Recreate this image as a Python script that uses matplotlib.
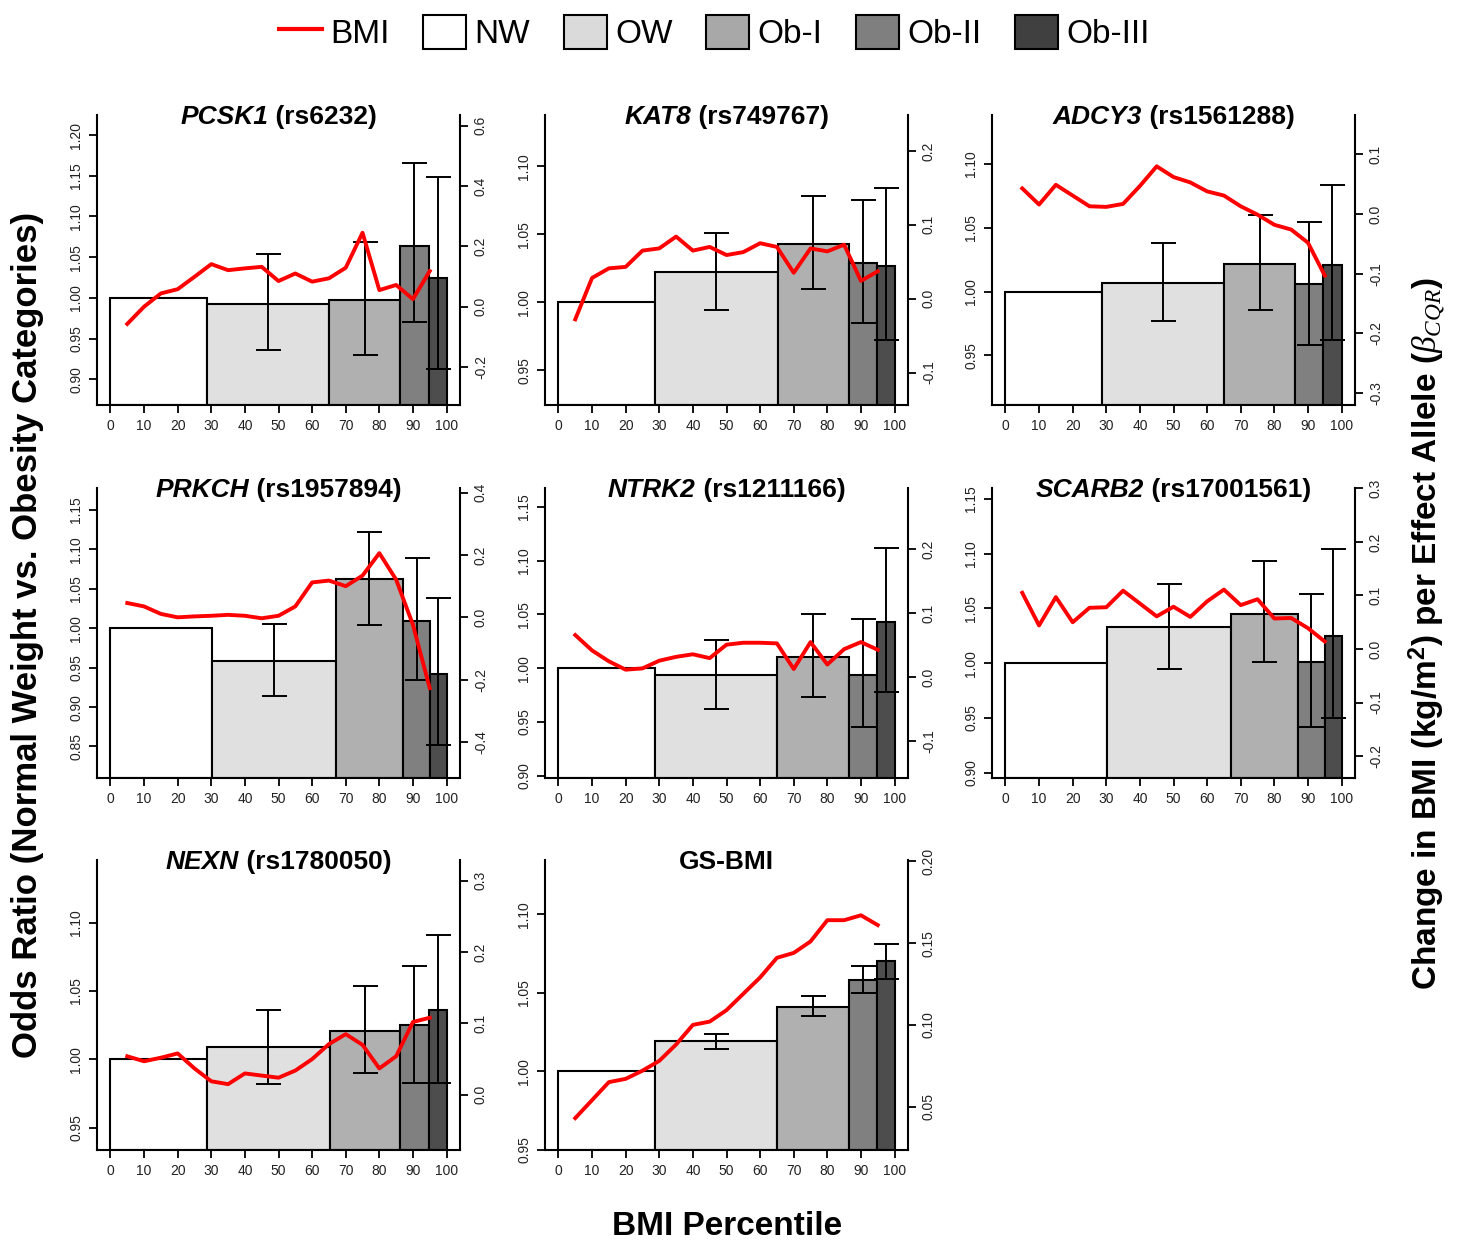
import matplotlib
matplotlib.use('Agg')
import matplotlib.pyplot as plt
from matplotlib.lines import Line2D
from matplotlib.patches import Patch
from matplotlib.ticker import MultipleLocator, FormatStrFormatter

plt.rcParams['font.family'] = ['Liberation Sans', 'DejaVu Sans']
plt.rcParams['mathtext.fontset'] = 'custom'
plt.rcParams['mathtext.rm'] = 'Liberation Sans:bold'
plt.rcParams['mathtext.bf'] = 'Liberation Sans:bold'
plt.rcParams['mathtext.it'] = 'Liberation Serif:italic'

# ---- data ----
categories = ['NW', 'OW', 'Ob-I', 'Ob-II', 'Ob-III']
genes = ['PCSK1', 'KAT8', 'ADCY3', 'PRKCH', 'NTRK2', 'SCARB2', 'NEXN', 'GS-BMI']
snps = ['rs6232', 'rs749767', 'rs1561288', 'rs1957894', 'rs1211166',
        'rs17001561', 'rs1780050', '']

# BMI percentiles used for the quantile regression line
pctl = [5, 10, 15, 20, 25, 30, 35, 40, 45, 50, 55, 60, 65, 70, 75, 80, 85, 90, 95]

# percentile cut points of the weight categories (NW | OW | Ob-I | Ob-II | Ob-III)
cuts = [
    [0, 28.6, 65.1, 86.1, 94.8, 100],
    [0, 28.6, 65.2, 86.3, 94.8, 100],
    [0, 28.7, 65.1, 86.2, 94.6, 100],
    [0, 30.3, 67.0, 87.1, 95.2, 100],
    [0, 28.6, 65.0, 86.3, 94.8, 100],
    [0, 30.1, 67.0, 87.1, 95.0, 100],
    [0, 28.6, 65.2, 86.1, 94.8, 100],
    [0, 28.6, 65.0, 86.3, 94.8, 100],
]

# odds ratios vs NW (NW = reference 1.00)
odds = [
    [1.00, 0.993, 0.997, 1.064, 1.025],
    [1.00, 1.022, 1.043, 1.029, 1.027],
    [1.00, 1.007, 1.022, 1.006, 1.021],
    [1.00, 0.959, 1.062, 1.009, 0.942],
    [1.00, 0.994, 1.010, 0.994, 1.043],
    [1.00, 1.033, 1.045, 1.001, 1.025],
    [1.00, 1.009, 1.021, 1.025, 1.036],
    [1.00, 1.019, 1.041, 1.058, 1.070],
]
odds_lo = [
    [0.936, 0.930, 0.971, 0.913],
    [0.994, 1.010, 0.985, 0.972],
    [0.977, 0.986, 0.958, 0.962],
    [0.914, 1.004, 0.934, 0.852],
    [0.962, 0.973, 0.945, 0.978],
    [0.995, 1.001, 0.942, 0.950],
    [0.982, 0.990, 0.983, 0.983],
    [1.014, 1.035, 1.050, 1.059],
]
odds_hi = [
    [1.054, 1.069, 1.166, 1.149],
    [1.051, 1.078, 1.075, 1.084],
    [1.038, 1.060, 1.055, 1.084],
    [1.006, 1.122, 1.089, 1.039],
    [1.026, 1.050, 1.046, 1.112],
    [1.072, 1.093, 1.063, 1.104],
    [1.036, 1.054, 1.068, 1.091],
    [1.024, 1.048, 1.067, 1.081],
]

# change in BMI per effect allele at each percentile
beta = [
    [-0.057, 0.000, 0.044, 0.058, 0.099, 0.141, 0.121, 0.127, 0.132, 0.085,
     0.110, 0.083, 0.094, 0.129, 0.245, 0.055, 0.072, 0.025, 0.118],
    [-0.028, 0.028, 0.041, 0.043, 0.065, 0.068, 0.084, 0.065, 0.070, 0.059,
     0.063, 0.075, 0.070, 0.035, 0.068, 0.064, 0.073, 0.024, 0.037],
    [0.043, 0.016, 0.049, 0.031, 0.013, 0.012, 0.017, 0.047, 0.080, 0.062,
     0.053, 0.038, 0.031, 0.013, -0.001, -0.018, -0.026, -0.048, -0.103],
    [0.046, 0.035, 0.011, 0.000, 0.003, 0.005, 0.008, 0.005, -0.003, 0.005,
     0.035, 0.112, 0.118, 0.100, 0.134, 0.206, 0.121, -0.024, -0.227],
    [0.066, 0.042, 0.025, 0.012, 0.014, 0.026, 0.032, 0.036, 0.030, 0.051,
     0.054, 0.054, 0.053, 0.013, 0.055, 0.020, 0.044, 0.055, 0.043],
    [0.105, 0.044, 0.097, 0.050, 0.077, 0.078, 0.109, 0.085, 0.061, 0.079,
     0.060, 0.089, 0.111, 0.082, 0.093, 0.057, 0.058, 0.039, 0.014],
    [0.054, 0.047, 0.052, 0.058, 0.037, 0.019, 0.015, 0.030, 0.027, 0.024,
     0.034, 0.050, 0.071, 0.085, 0.070, 0.037, 0.054, 0.102, 0.108],
    [0.043, 0.054, 0.065, 0.067, 0.072, 0.078, 0.088, 0.100, 0.102, 0.109,
     0.119, 0.129, 0.141, 0.144, 0.151, 0.164, 0.164, 0.167, 0.161],
]

# ---- axis ranges (style) ----
left_lims = [(0.8685, 1.2246), (0.9245, 1.1377), (0.9112, 1.1385), (0.810, 1.178),
             (0.898, 1.1674), (0.895, 1.160), (0.9336, 1.1459), (0.9498, 1.1346)]
right_lims = [(-0.3256, 0.635), (-0.1439, 0.2485), (-0.320, 0.166), (-0.5155, 0.415),
              (-0.157, 0.2954), (-0.241, 0.3008), (-0.0772, 0.3288), (0.0235, 0.2008)]
right_step = [0.2, 0.1, 0.1, 0.2, 0.1, 0.1, 0.1, 0.05]

bar_colors = ['#FFFFFF', '#E0E0E0', '#B0B0B0', '#808080', '#4D4D4D']
legend_colors = ['#FFFFFF', '#DADADA', '#A8A8A8', '#7F7F7F', '#404040']
tick_color = '#222222'

W, H = 1464, 1245
fig = plt.figure(figsize=(W / 100, H / 100), dpi=100)

col_left = [97, 545, 992]
row_top = [115, 488, 860]
ax_w, ax_h = 363, 290

titles = []
for i, gene in enumerate(genes):
    r, c = divmod(i, 3)
    ax = fig.add_axes([col_left[c] / W, 1 - (row_top[r] + ax_h) / H, ax_w / W, ax_h / H])
    lo, hi = left_lims[i]
    edges = cuts[i]
    widths = [edges[k + 1] - edges[k] for k in range(5)]
    heights = [v - lo for v in odds[i]]
    ax.bar(edges[:-1], heights, width=widths, bottom=lo, align='edge',
           color=bar_colors, edgecolor='black', linewidth=1.5, zorder=2)
    mids = [edges[k] + widths[k] / 2 for k in range(1, 5)]
    ors = odds[i][1:]
    yerr = [[o - l for o, l in zip(ors, odds_lo[i])],
            [h - o for o, h in zip(ors, odds_hi[i])]]
    ax.errorbar(mids, ors, yerr=yerr, fmt='none', ecolor='black',
                elinewidth=1.4, capsize=9, capthick=1.4, zorder=3)
    ax.set_xlim(-4, 104)
    ax.set_ylim(lo, hi)
    ax.xaxis.set_major_locator(MultipleLocator(10))
    ax.yaxis.set_major_locator(MultipleLocator(0.05))
    ax.yaxis.set_major_formatter(FormatStrFormatter('%.2f'))
    for s in ['top', 'right']:
        ax.spines[s].set_visible(False)
    for s in ['left', 'bottom']:
        ax.spines[s].set_linewidth(1.5)
    ax.tick_params(axis='both', direction='out', length=6, width=1.3, labelsize=10,
                   labelcolor=tick_color)
    ax.tick_params(axis='x', pad=4)
    ax.tick_params(axis='y', labelrotation=90, pad=4)
    for t in ax.get_yticklabels():
        t.set_va('center')

    ax2 = ax.twinx()
    ax2.plot(pctl, beta[i], color='#FF0000', linewidth=2.8, zorder=4)
    ax2.set_ylim(*right_lims[i])
    ax2.yaxis.set_major_locator(MultipleLocator(right_step[i]))
    ax2.yaxis.set_major_formatter(FormatStrFormatter('%.2f' if right_step[i] < 0.1 else '%.1f'))
    for s in ['top', 'left', 'bottom']:
        ax2.spines[s].set_visible(False)
    ax2.spines['right'].set_linewidth(1.5)
    ax2.tick_params(axis='y', direction='out', length=6, width=1.3, labelsize=10,
                    labelcolor=tick_color, labelrotation=90, pad=4)
    for t in ax2.get_yticklabels():
        t.set_va('center')

    # title: gene in bold italic, SNP id in bold
    if snps[i]:
        t1 = ax.text(0.5, 0.97, gene, transform=ax.transAxes, fontsize=19,
                     fontweight='bold', fontstyle='italic', ha='left', va='baseline')
        t2 = ax.annotate(' (' + snps[i] + ')', xy=(1, 0), xycoords=t1, fontsize=19,
                         fontweight='bold', ha='left', va='bottom')
        titles.append((ax, t1, t2))
    else:
        ax.text(0.5, 0.97, gene, transform=ax.transAxes, fontsize=19,
                fontweight='bold', ha='center', va='baseline')

fig.canvas.draw()
for ax, t1, t2 in titles:
    w = t1.get_window_extent().width + t2.get_window_extent().width
    axw = ax.get_window_extent().width
    t1.set_x(0.5 - w / 2 / axw)

handles = [Line2D([], [], color='#FF0000', linewidth=3)]
handles += [Patch(facecolor=c, edgecolor='black', linewidth=1.5) for c in legend_colors]
fig.legend(handles, ['BMI'] + categories, loc='center', bbox_to_anchor=(0.488, 0.974),
           ncol=6, frameon=False, fontsize=24, handlelength=1.3, handleheight=1.2,
           handletextpad=0.25, columnspacing=1.0)

fig.text(0.0185, 0.49, 'Odds Ratio (Normal Weight vs. Obesity Categories)',
         rotation=90, ha='center', va='center', fontsize=25, fontweight='bold')
fig.text(0.975, 0.491, r'Change in BMI (kg/m$^2$) per Effect Allele ($\beta_{CQR}$)',
         rotation=90, ha='center', va='center', fontsize=24, fontweight='bold')
fig.text(0.4966, 0.0145, 'BMI Percentile', ha='center', va='center',
         fontsize=24, fontweight='bold')

fig.savefig('out.png', dpi=100)
